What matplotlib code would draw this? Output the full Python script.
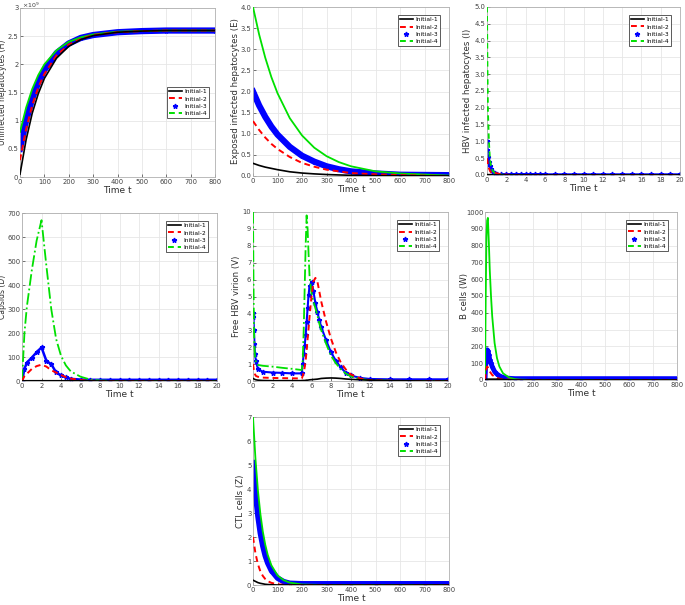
import numpy as np
import matplotlib
matplotlib.use("Agg")
import matplotlib.pyplot as plt
from matplotlib.lines import Line2D
from matplotlib.ticker import FuncFormatter

# etiquetas de las curvas
labels = ["Initial-1", "Initial-2", "Initial-3", "Initial-4"]

# ---- H (x 1e9) ----
tH = [0, 25, 50, 75, 100, 150, 200, 250, 300, 400, 500, 600, 800]
H1 = [0.05, 0.66, 1.13, 1.48, 1.75, 2.11, 2.32, 2.44, 2.51, 2.57, 2.59, 2.60, 2.60]
H2 = [0.30, 0.85, 1.27, 1.59, 1.83, 2.16, 2.35, 2.45, 2.52, 2.57, 2.59, 2.60, 2.60]
H3 = [0.50, 1.00, 1.39, 1.68, 1.90, 2.20, 2.37, 2.47, 2.52, 2.57, 2.59, 2.60, 2.60]
H4 = [0.80, 1.23, 1.56, 1.81, 2.00, 2.25, 2.40, 2.48, 2.53, 2.58, 2.59, 2.60, 2.60]

# ---- E ----
tE = [0, 25, 50, 75, 100, 150, 200, 250, 300, 350, 400, 500, 600, 800]
E1 = [0.30, 0.25, 0.21, 0.18, 0.15, 0.10, 0.07, 0.05, 0.035, 0.025, 0.017, 0.008, 0.004, 0.001]
E2 = [1.30, 1.09, 0.91, 0.76, 0.64, 0.45, 0.31, 0.22, 0.15, 0.11, 0.07, 0.04, 0.02, 0.0]
E3 = [2.00, 1.67, 1.40, 1.17, 0.98, 0.69, 0.48, 0.34, 0.23, 0.16, 0.11, 0.06, 0.03, 0.02]
E4 = [4.00, 3.35, 2.80, 2.34, 1.96, 1.37, 0.96, 0.67, 0.47, 0.33, 0.23, 0.11, 0.06, 0.01]

# ---- I ----
tI = [0, 0.05, 0.1, 0.2, 0.3, 0.4, 0.6, 0.8, 1, 1.5, 2, 2.5, 3, 3.5, 4, 4.5, 5, 5.5, 6, 7, 8, 9, 10,
      11, 12, 13, 14, 15, 16, 17, 18, 19, 20]
I1 = [0.01, 0.01, 0.01, 0.01, 0.01, 0.01, 0.0, 0.0, 0.0, 0.0, 0.0, 0.0, 0.0, 0.0, 0.0, 0.0, 0.0, 0.0,
      0.0, 0.0, 0.0, 0.0, 0.0, 0.0, 0.0, 0.0, 0.0, 0.0, 0.0, 0.0, 0.0, 0.0, 0.0]
I2 = [0.5, 0.4, 0.3, 0.2, 0.13, 0.08, 0.05, 0.08, 0.05, 0.02, 0.01, 0.0, 0.0, 0.0, 0.0, 0.0, 0.0, 0.0,
      0.0, 0.0, 0.0, 0.0, 0.0, 0.0, 0.0, 0.0, 0.0, 0.0, 0.0, 0.0, 0.0, 0.0, 0.0]
I3 = [1.0, 0.75, 0.55, 0.4, 0.28, 0.18, 0.09, 0.05, 0.03, 0.02, 0.02, 0.02, 0.02, 0.02, 0.02, 0.02,
      0.02, 0.02, 0.02, 0.02, 0.02, 0.02, 0.02, 0.02, 0.02, 0.02, 0.02, 0.02, 0.02, 0.02, 0.02, 0.02, 0.02]
I4 = [5.0, 3.2, 1.9, 1.0, 0.5, 0.28, 0.12, 0.06, 0.03, 0.01, 0.0, 0.0, 0.0, 0.0, 0.0, 0.0, 0.0, 0.0,
      0.0, 0.0, 0.0, 0.0, 0.0, 0.0, 0.0, 0.0, 0.0, 0.0, 0.0, 0.0, 0.0, 0.0, 0.0]

# ---- D ----
tD = [0, 0.25, 0.5, 1, 1.5, 2, 2.5, 3, 3.5, 4, 4.5, 5, 6, 7, 8, 9, 10, 11, 12, 13, 14, 15, 16, 17, 18, 19, 20]
D1 = [0, 1, 1, 1, 1, 1, 1, 1, 1, 1, 1, 1, 1, 0.5, 0, 0, 0, 0, 0, 0, 0, 0, 0, 0, 0, 0, 0]
D2 = [0, 20, 30, 50, 62, 68, 60, 45, 35, 25, 16, 10, 4, 1, 0, 0, 0, 0, 0, 0, 0, 0, 0, 0, 0, 0, 0]
D3 = [0, 50, 77, 97, 120, 140, 84, 70, 36, 23, 15, 9, 6, 5, 5, 5, 5, 5, 5, 5, 5, 5, 5, 5, 5, 5, 5]
D4 = [0, 200, 310, 460, 585, 670, 480, 300, 175, 105, 65, 40, 18, 6, 2, 1, 0, 0, 0, 0, 0, 0, 0, 0, 0, 0, 0]

# ---- V ----
tV = [0, 0.05, 0.1, 0.15, 0.2, 0.3, 0.5, 1, 2, 3, 4, 5, 5.1, 5.2, 5.3, 5.4, 5.5, 5.6, 5.7, 5.8,
      6.0, 6.2, 6.4, 6.6, 6.8, 7.0, 7.5, 8, 8.5, 9, 9.5, 10, 11, 12, 14, 16, 18, 20]
V1 = [0.15, 0.14, 0.12, 0.10, 0.09, 0.07, 0.05, 0.03, 0.02, 0.02, 0.02, 0.02, 0.03, 0.03, 0.03, 0.04,
      0.05, 0.05, 0.06, 0.07, 0.08, 0.09, 0.10, 0.11, 0.13, 0.15, 0.17, 0.18, 0.17, 0.15, 0.12, 0.10,
      0.07, 0.05, 0.02, 0.01, 0.0, 0.0]
V2 = [1.0, 0.8, 0.6, 0.5, 0.4, 0.3, 0.25, 0.2, 0.18, 0.17, 0.16, 0.15, 0.3, 0.5, 0.8, 1.2, 1.8, 2.5,
      3.1, 3.8, 5.0, 5.9, 6.1, 5.9, 5.3, 4.7, 3.5, 2.5, 1.7, 1.1, 0.7, 0.4, 0.15, 0.05, 0.02, 0.0, 0.0, 0.0]
V3 = [4.0, 3.8, 3.0, 2.2, 1.6, 1.2, 0.7, 0.55, 0.5, 0.48, 0.45, 0.45, 1.0, 1.6, 2.1, 2.7, 3.5, 4.3,
      5.1, 5.6, 5.85, 5.3, 4.6, 4.1, 3.6, 3.2, 2.4, 1.7, 1.2, 0.8, 0.5, 0.33, 0.18, 0.12, 0.1, 0.1, 0.1, 0.1]
V4 = [10.0, 6.0, 3.0, 2.0, 1.5, 1.1, 0.95, 0.9, 0.85, 0.78, 0.72, 0.65, 1.2, 3.0, 5.5, 8.0, 9.8, 9.0,
      7.5, 6.2, 5.2, 4.7, 4.3, 3.9, 3.4, 3.0, 2.2, 1.5, 1.05, 0.7, 0.45, 0.28, 0.12, 0.05, 0.02, 0.0, 0.0, 0.0]

# ---- W ----
tW = [0, 3, 6, 9, 12, 16, 20, 25, 30, 40, 50, 60, 75, 100, 125, 150, 200, 300, 400, 500, 600, 700, 800]
W1 = [0, 2, 4, 5, 5, 5, 5, 5, 5, 5, 5, 4, 3, 1, 0, 0, 0, 0, 0, 0, 0, 0, 0]
W2 = [0, 40, 70, 80, 75, 60, 50, 40, 30, 20, 12, 8, 4, 2, 1, 0, 0, 0, 0, 0, 0, 0, 0]
W3 = [0, 100, 170, 180, 175, 150, 120, 100, 80, 50, 35, 25, 15, 10, 8, 8, 8, 8, 8, 8, 8, 8, 8]
W4 = [0, 500, 850, 950, 965, 820, 650, 500, 380, 220, 130, 80, 40, 15, 5, 2, 0, 0, 0, 0, 0, 0, 0]

# ---- Z ----
tZ = [0, 10, 20, 30, 40, 50, 60, 75, 100, 125, 150, 200, 300, 400, 500, 600, 700, 800]
Z1 = [0.2, 0.15, 0.10, 0.07, 0.05, 0.03, 0.02, 0.01, 0.0, 0.0, 0.0, 0.0, 0.0, 0.0, 0.0, 0.0, 0.0, 0.0]
Z2 = [2.0, 1.32, 0.87, 0.57, 0.38, 0.25, 0.16, 0.09, 0.03, 0.01, 0.0, 0.0, 0.0, 0.0, 0.0, 0.0, 0.0, 0.0]
Z3 = [5.1, 3.83, 2.88, 2.16, 1.63, 1.22, 0.92, 0.60, 0.29, 0.14, 0.07, 0.05, 0.05, 0.05, 0.05, 0.05, 0.05, 0.05]
Z4 = [7.0, 5.26, 3.95, 2.97, 2.23, 1.68, 1.26, 0.82, 0.40, 0.20, 0.10, 0.02, 0.0, 0.0, 0.0, 0.0, 0.0, 0.0]

W, Hh = 685, 605
fig = plt.figure(figsize=(W / 100, Hh / 100), dpi=100)

def make_ax(l, r, t, b):
    ax = fig.add_axes([l / W, 1 - b / Hh, (r - l) / W, (b - t) / Hh])
    ax._px = (l, r)
    return ax

def panel(ax, t, ys, ylabel, ylab_x, xlim, xstep, ylim, ystep, gstyle, blw, ms, legpos, yfs=6.2):
    y1, y2, y3, y4 = ys
    ax.plot(t, y3, color="b", lw=blw, marker="*", ms=ms, zorder=2)
    ax.plot(t, y4, color="#00e000", ls=gstyle, lw=1.3, zorder=3)
    ax.plot(t, y2, color="r", ls=(0, (3, 2)), lw=1.4, zorder=4)
    ax.plot(t, y1, color="k", lw=1.2, zorder=5)
    ax.set_xlim(xlim)
    ax.set_ylim(ylim)
    ax.set_xticks(np.arange(xlim[0], xlim[1] + xstep / 2, xstep))
    ax.set_yticks(np.arange(ylim[0], ylim[1] + ystep / 2, ystep))
    ax.grid(True, color="#e6e6e6", lw=0.6)
    ax.set_axisbelow(True)
    ax.tick_params(direction="in", labelsize=4.9, length=2, width=0.5, colors="#404040", pad=1.2)
    for s in ax.spines.values():
        s.set_color("#b0b0b0")
        s.set_linewidth(0.6)
    ax.set_xlabel("Time t", fontsize=6.5, labelpad=1, color="#303030")
    ax.set_ylabel(ylabel, fontsize=yfs, color="#303030", va="center")
    l, r = ax._px
    ax.yaxis.set_label_coords((ylab_x - l) / (r - l), 0.5)
    handles = [Line2D([], [], color="k", lw=1.2),
               Line2D([], [], color="r", ls=(0, (3, 2)), lw=1.4),
               Line2D([], [], color="b", ls="none", marker="*", ms=3.5),
               Line2D([], [], color="#00e000", ls=(0, (3, 2)), lw=1.4)]
    leg = ax.legend(handles, labels, loc="upper right", bbox_to_anchor=legpos,
                    fontsize=4.3, handlelength=2.2, handletextpad=0.4, labelspacing=0.35,
                    borderpad=0.35, fancybox=False, framealpha=1)
    leg.get_frame().set_edgecolor("#404040")
    leg.get_frame().set_linewidth(0.6)

ax1 = make_ax(20, 215, 8, 177)
panel(ax1, tH, [np.array(v) * 1e9 for v in (H1, H2, H3, H4)], "Uninfected hepatocytes (H)", 3.0,
      (0, 800), 100, (0, 3e9), 0.5e9, "-", 4.5, 3, (0.985, 0.55), yfs=5.5)
ax1.yaxis.set_major_formatter(FuncFormatter(lambda v, p: "%g" % (v / 1e9)))
fig.text(22 / W, 1 - 5 / Hh, r"$\times10^9$", fontsize=4.5, color="#404040", va="center")

ax2 = make_ax(253, 449, 7, 176)
panel(ax2, tE, (E1, E2, E3, E4), "Exposed infected hepatocytes (E)", 235,
      (0, 800), 100, (0, 4), 0.5, "-", 4.5, 3, (0.97, 0.97))

ax3 = make_ax(487, 680, 7, 175)
panel(ax3, tI, (I1, I2, I3, I4), "HBV infected hepatocytes (I)", 468,
      (0, 20), 2, (0, 5), 0.5, (0, (3, 2)), 1.5, 3.5, (0.97, 0.97))

ax4 = make_ax(22, 217, 213, 381)
panel(ax4, tD, (D1, D2, D3, D4), "Capsids (D)", 3.0,
      (0, 20), 2, (0, 700), 100, "-.", 1.8, 3.5, (0.97, 0.97), yfs=5.5)

ax5 = make_ax(253, 448, 212, 381)
panel(ax5, tV, (V1, V2, V3, V4), "Free HBV virion (V)", 237,
      (0, 20), 2, (0, 10), 1, "-.", 1.5, 3.5, (0.97, 0.97))

ax6 = make_ax(485, 677, 212, 380)
panel(ax6, tW, (W1, W2, W3, W4), "B cells (W)", 464,
      (0, 800), 100, (0, 1000), 100, "-", 3.5, 3, (0.97, 0.97))

ax7 = make_ax(253, 449, 417, 585)
panel(ax7, tZ, (Z1, Z2, Z3, Z4), "CTL cells (Z)", 240,
      (0, 800), 100, (0, 7), 1, "-", 4.0, 3, (0.97, 0.97))

fig.savefig("out.png", dpi=100)
